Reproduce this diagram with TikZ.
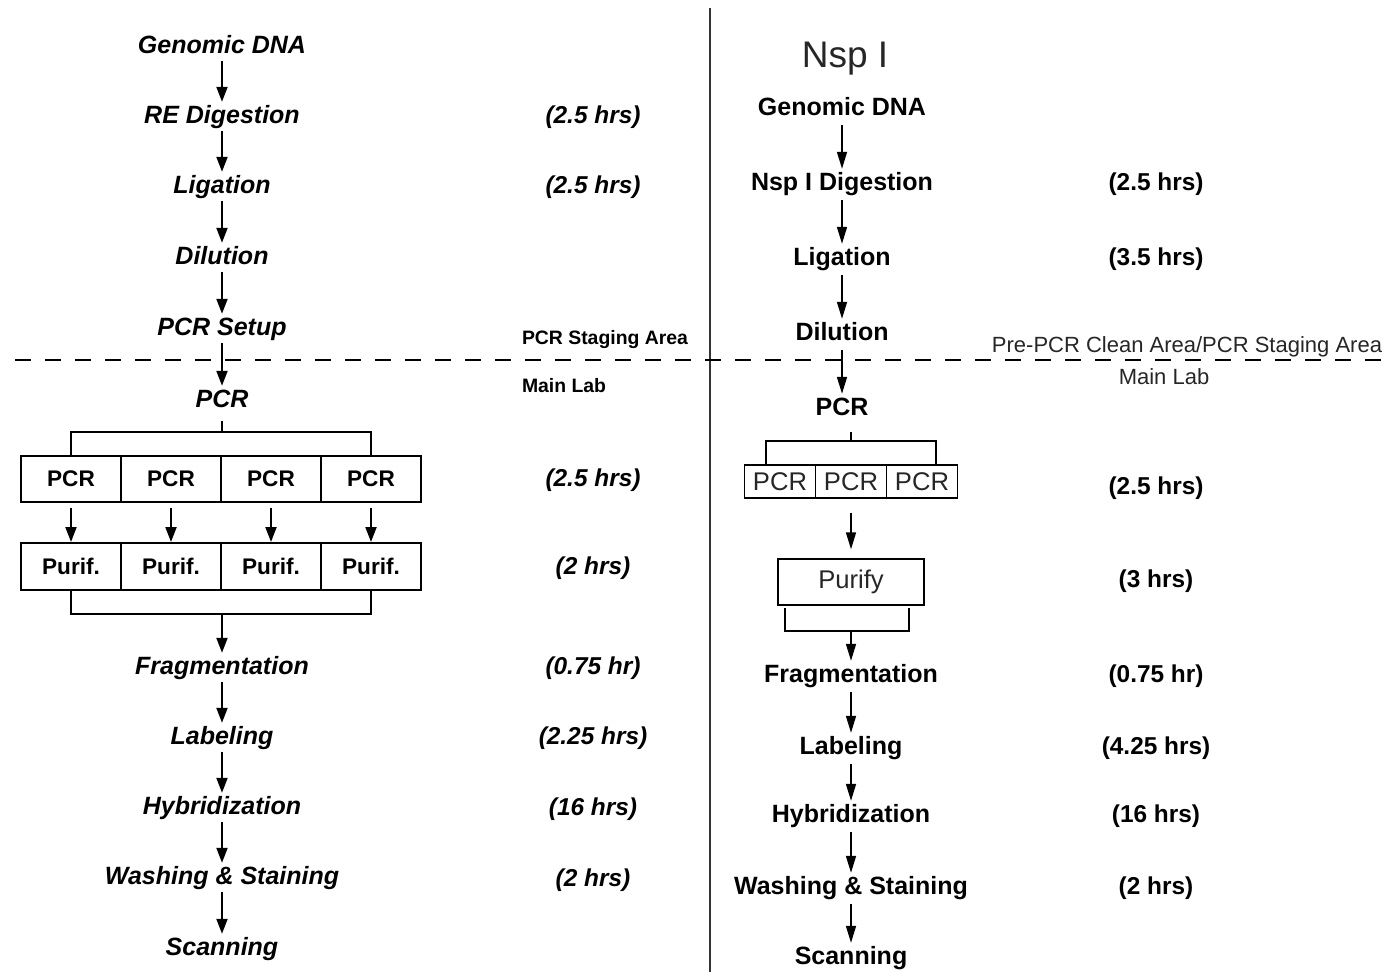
\documentclass[tikz,border=0pt]{standalone}
\usepackage{fontspec}
\setmainfont{Liberation Sans}
\usetikzlibrary{arrows.meta}
\begin{document}
\begin{tikzpicture}[x=0.5pt,y=-0.5pt,
  base/.style={inner sep=0pt, outer sep=0pt, text height=0.72em, text depth=0pt, yshift=-1pt},
  lab/.style={base, font=\fontsize{12.5}{14}\selectfont\bfseries\itshape},
  rlab/.style={base, font=\fontsize{12.5}{14}\selectfont\bfseries},
  tl/.style={base, font=\fontsize{12.2}{14}\selectfont\bfseries\itshape},
  tr/.style={base, font=\fontsize{12.2}{14}\selectfont\bfseries},
  area/.style={base, font=\fontsize{9.7}{12}\selectfont\bfseries},
  rarea/.style={base, font=\fontsize{11}{13}\selectfont, text=black!85},
  larr/.style={line width=1pt, -{Triangle[length=7.5pt,width=5.5pt]}, shorten <=4pt, shorten >=3.5pt},
  rarr/.style={line width=0.8pt, -{Triangle[length=8.5pt,width=5pt]}, shorten <=5pt, shorten >=3.5pt},
  lbox/.style={draw, line width=1pt, minimum width=50pt, inner sep=0pt, font=\fontsize{11.3}{13}\selectfont\bfseries},
  rbox/.style={draw, line width=0.7pt, inner sep=0pt, font=\fontsize{12.8}{14}\selectfont, text=black!85},
  lline/.style={line width=1pt},
  rline/.style={line width=0.7pt},
]
\useasboundingbox (0,0) rectangle (1384,972);
% divider and zone line
\coordinate (dt) at (710,8);
\coordinate (db) at (710,972);
\draw[line width=1pt, black!80] (dt) -- (db);
\coordinate (zl) at (15,360);
\coordinate (zr) at (1384,360);
\draw[line width=0.9pt, dash pattern=on 8pt off 7pt] (zl) -- (zr);

% ---------------- left column ----------------
\node[lab] (l1) at (222,44) {Genomic DNA};
\node[lab] (l2) at (222,114) {RE Digestion};
\node[lab] (l3) at (222,184) {Ligation};
\node[lab] (l4) at (222,255) {Dilution};
\node[lab] (l5) at (222,326) {PCR Setup};
\node[lab] (l6) at (222,398) {PCR};
\node[lab] (l7) at (222,665) {Fragmentation};
\node[lab] (l8) at (222,735) {Labeling};
\node[lab] (l9) at (222,805) {Hybridization};
\node[lab] (l10) at (222,875) {Washing \& Staining};
\node[lab] (l11) at (222,946) {Scanning};
\foreach \a/\b in {l1/l2,l2/l3,l3/l4,l4/l5,l5/l6,l7/l8,l8/l9,l9/l10,l10/l11}
  \draw[larr] (\a) -- (\b);

\foreach \i/\x in {1/71,2/171,3/271,4/371}{
  \node[lbox, minimum height=23pt] (p\i) at (\x,479) {PCR};
  \node[lbox, minimum height=23.5pt] (q\i) at (\x,566.5) {Purif.};
  \draw[larr, shorten <=2.5pt, shorten >=0pt] (p\i) -- (q\i);
}
\coordinate (ls) at (222,421);
\coordinate (lj) at (222,432);
\coordinate (lb) at (222,614);
\draw[lline] (ls) -- (lj);
\draw[lline] (p1.north) |- (lj) -| (p4.north);
\draw[lline] (q1.south) |- (lb) -| (q4.south);
\draw[larr, shorten <=0pt] (lb) -- (l7);

\node[tl] (t1) at (593,114) {(2.5 hrs)};
\node[tl] (t2) at (593,184) {(2.5 hrs)};
\node[tl] (t3) at (593,477) {(2.5 hrs)};
\node[tl] (t4) at (593,565) {(2 hrs)};
\node[tl] (t5) at (593,665) {(0.75 hr)};
\node[tl] (t6) at (593,735) {(2.25 hrs)};
\node[tl] (t7) at (593,806) {(16 hrs)};
\node[tl] (t8) at (593,877) {(2 hrs)};
\node[area, anchor=west] (sa) at (522,335) {PCR Staging Area};
\node[area, anchor=west] (ml) at (522,383) {Main Lab};

% ---------------- right column ----------------
\node[base, font=\fontsize{18.5}{20}\selectfont, text=black!85] (nsp) at (845,58) {Nsp I};
\node[rlab] (r1) at (842,106) {Genomic DNA};
\node[rlab] (r2) at (842,181) {Nsp I Digestion};
\node[rlab] (r3) at (842,256) {Ligation};
\node[rlab] (r4) at (842,331) {Dilution};
\node[rlab] (r5) at (842,406) {PCR};
\node[rlab] (r7) at (851,673) {Fragmentation};
\node[rlab] (r8) at (851,745) {Labeling};
\node[rlab] (r9) at (851,813) {Hybridization};
\node[rlab] (r10) at (851,885) {Washing \& Staining};
\node[rlab] (r11) at (851,955) {Scanning};
\foreach \a/\b in {r1/r2,r2/r3,r3/r4,r4/r5,r7/r8,r8/r9,r9/r10,r10/r11}
  \draw[rarr] (\a) -- (\b);

\foreach \i/\x in {1/780,2/851,3/922}
  \node[rbox, minimum width=35.5pt, minimum height=16.5pt] (s\i) at (\x,481.5) {PCR};
\node[rbox, minimum width=73pt, minimum height=23pt] (pu) at (851,582) {Purify};
\draw[rarr, shorten <=7pt, shorten >=4.5pt] (s2) -- (pu);

\coordinate (rs) at (851,432);
\coordinate (rj) at (851,441);
\coordinate (ra) at (766,441);
\coordinate (rb) at (936,441);
\coordinate (ra2) at (766,465);
\coordinate (rb2) at (936,465);
\draw[rline] (rs) -- (rj);
\draw[rline] (ra2) -- (ra) -- (rb) -- (rb2);
\coordinate (rc0) at (785,608);
\coordinate (rc) at (785,631);
\coordinate (rd) at (909,631);
\coordinate (rd0) at (909,608);
\coordinate (rm) at (851,631);
\draw[rline] (rc0) -- (rc) -- (rd) -- (rd0);
\draw[rarr, shorten <=0pt] (rm) -- (r7);

\node[tr] (u1) at (1156,181) {(2.5 hrs)};
\node[tr] (u2) at (1156,256) {(3.5 hrs)};
\node[tr] (u3) at (1156,485) {(2.5 hrs)};
\node[tr] (u4) at (1156,578) {(3 hrs)};
\node[tr] (u5) at (1156,673) {(0.75 hr)};
\node[tr] (u6) at (1156,745) {(4.25 hrs)};
\node[tr] (u7) at (1156,813) {(16 hrs)};
\node[tr] (u8) at (1156,885) {(2 hrs)};
\node[rarea] (pre) at (1187,343) {Pre-PCR Clean Area/PCR Staging Area};
\node[rarea] (rml) at (1164,375) {Main Lab};
\end{tikzpicture}
\end{document}
